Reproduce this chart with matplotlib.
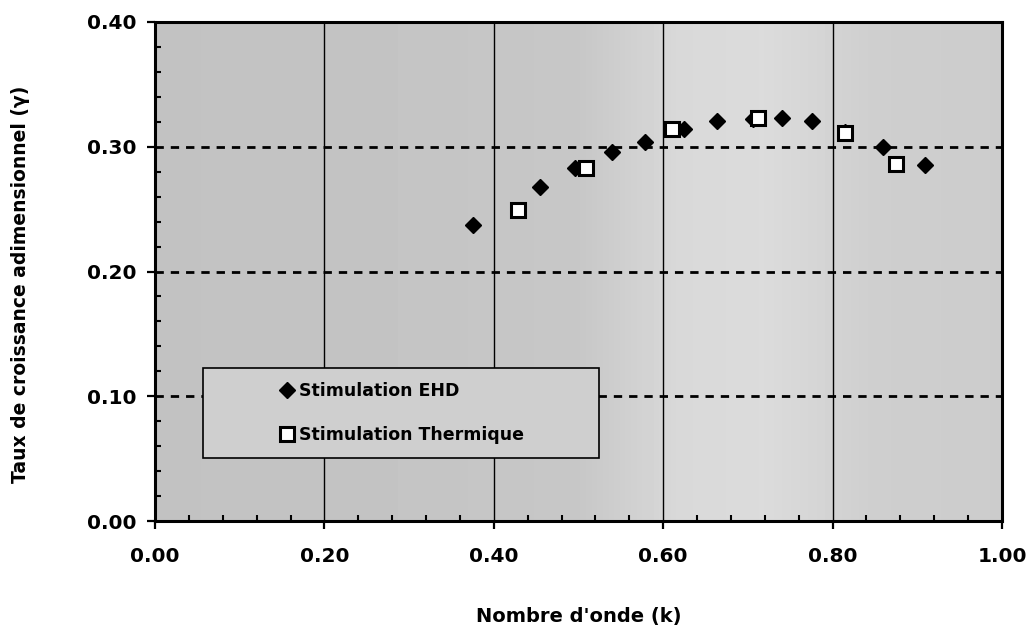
import numpy as np
import matplotlib
matplotlib.use("Agg")
import matplotlib.pyplot as plt
from matplotlib.ticker import MultipleLocator, FormatStrFormatter
from matplotlib.patches import Rectangle

# ---- data ----
k_ehd = [0.375, 0.454, 0.496, 0.539, 0.578, 0.625, 0.663, 0.706, 0.740, 0.776, 0.815, 0.860, 0.909]
g_ehd = [0.237, 0.268, 0.283, 0.296, 0.304, 0.314, 0.321, 0.322, 0.323, 0.321, 0.312, 0.300, 0.285]
k_th = [0.428, 0.509, 0.610, 0.712, 0.815, 0.875]
g_th = [0.249, 0.283, 0.314, 0.323, 0.311, 0.286]

label_ehd = "Stimulation EHD"
label_th = "Stimulation Thermique"
xlabel = "Nombre d'onde (k)"
ylabel = "Taux de croissance adimensionnel (γ)"

plt.rcParams['font.family'] = ['DejaVu Sans']
plt.rcParams['font.weight'] = 'bold'

fig = plt.figure(figsize=(10.28, 6.34), dpi=100)
fig.patch.set_facecolor('white')
ax = fig.add_axes([0.1508, 0.1782, 0.8239, 0.7871])

# stippled grey background approximated with a soft horizontal shading
xs = np.linspace(0, 1, 200)
shade_x = [0.0, 0.3, 0.5, 0.62, 0.72, 0.85, 1.0]
shade_v = [0.76, 0.77, 0.78, 0.85, 0.86, 0.81, 0.80]
grad = np.interp(xs, shade_x, shade_v)[None, :]
ax.imshow(grad, extent=(0, 1, 0, 1), transform=ax.transAxes, cmap='gray',
          vmin=0, vmax=1, aspect='auto', zorder=0, interpolation='bicubic')

# grid lines
for xv in [0.2, 0.4, 0.6, 0.8]:
    ax.axvline(xv, color='black', lw=1.0, zorder=1)
for yv in [0.1, 0.2, 0.3]:
    ax.axhline(yv, color='black', lw=2.0, dashes=(3, 2.5), zorder=1)

# data
ax.plot(k_ehd, g_ehd, linestyle='none', marker='D', ms=8, color='black',
        markeredgecolor='black', zorder=3, label=label_ehd)
ax.plot(k_th, g_th, linestyle='none', marker='s', ms=9.5, markerfacecolor='white',
        markeredgecolor='black', markeredgewidth=2.2, zorder=4, label=label_th)

ax.set_xlim(0, 1.0)
ax.set_ylim(0, 0.40)

ax.xaxis.set_major_locator(MultipleLocator(0.2))
ax.xaxis.set_minor_locator(MultipleLocator(0.04))
ax.yaxis.set_major_locator(MultipleLocator(0.1))
ax.yaxis.set_minor_locator(MultipleLocator(0.02))
ax.xaxis.set_major_formatter(FormatStrFormatter('%.2f'))
ax.yaxis.set_major_formatter(FormatStrFormatter('%.2f'))

ax.tick_params(axis='both', which='major', direction='out', length=6, width=1.6,
               labelsize=14.5)
ax.tick_params(axis='x', which='major', pad=13)
ax.tick_params(axis='y', which='major', pad=7)
ax.tick_params(axis='both', which='minor', direction='in', length=4.5, width=1.5)
for lab in ax.get_xticklabels() + ax.get_yticklabels():
    lab.set_fontweight('bold')

for s in ax.spines.values():
    s.set_linewidth(2.2)
    s.set_color('black')
    s.set_zorder(5)

ax.set_xlabel(xlabel, fontsize=14, fontweight='bold')
ax.set_ylabel(ylabel, fontsize=13.5, fontweight='bold')
ax.xaxis.set_label_coords(0.5, -0.172)
ax.yaxis.set_label_coords(-0.148, 0.474)

# legend box
ax.add_patch(Rectangle((0.0567, 0.126), 0.4673, 0.181, transform=ax.transAxes,
                       facecolor='#cfcfcf', edgecolor='black', lw=1.2, zorder=6))
leg = ax.legend(loc='upper left', bbox_to_anchor=(0.1476, 0.2786), frameon=False,
                fontsize=12.5, handlelength=0.8, handletextpad=0.3,
                labelspacing=1.5, borderpad=0, borderaxespad=0, numpoints=1)
leg.set_zorder(7)
for t in leg.get_texts():
    t.set_fontweight('bold')

fig.savefig('out.png', dpi=100, facecolor='white')
